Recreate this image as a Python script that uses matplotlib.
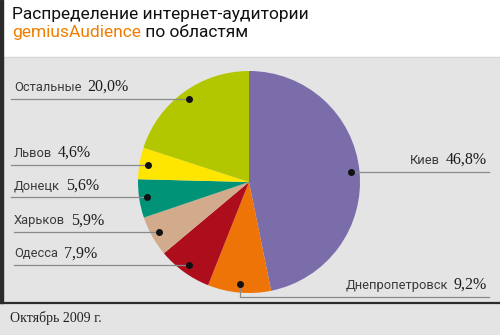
import numpy as np
import matplotlib.pyplot as plt
from matplotlib.patches import Rectangle

# -------------------------------------------------------------------------#
# DATA
# -------------------------------------------------------------------------#
regions = ["Киев", "Днепропетровск", "Одесса", "Харьков", "Донецк", "Львов", "Остальные"]
shares = [46.8, 9.2, 7.9, 5.9, 5.6, 4.6, 20.0]
colors = ["#7a6daa", "#ee7407", "#ae0d1c", "#d1ab8c", "#009378", "#ffe600", "#b2c700"]

title_line1 = "Распределение интернет-аудитории"
title_brand = "gemiusAudience"
title_rest = " по областям"
footnote = "Октябрь 2009 г."

# -------------------------------------------------------------------------#
# LAYOUT (pixels, y measured from the top)
# -------------------------------------------------------------------------#
W, H = 500, 335
CX, CY, R = 249, 182, 111
DOT_R = 0.925

SANS = ["Roboto", "DejaVu Sans"]
SERIF = ["Liberation Serif", "DejaVu Serif"]
BG = "#e4e4e4"
LINE = "#8a8a8a"


def Y(y):
    return H - y


fig = plt.figure(figsize=(W / 100, H / 100), dpi=100)
fig.patch.set_facecolor("white")
ax = fig.add_axes([0, 0, 1, 1])

# panel and footer backgrounds, dark frame on the left and bottom
ax.add_patch(Rectangle((3, Y(303)), W - 3, 303 - 57, color=BG, zorder=0))
ax.add_patch(Rectangle((0, 0), W, H - 303, color=BG, zorder=0))
ax.plot([3, W], [Y(57), Y(57)], color="#d6d6d6", lw=0.8, zorder=1)
ax.add_patch(Rectangle((0, Y(303)), 3, 303, color="#2b2b2b", zorder=2))
ax.plot([0, W], [Y(303), Y(303)], color="#2b2b2b", lw=1.6, zorder=2)

# pie, clockwise from the top
ax.pie(shares, colors=colors, startangle=90, counterclock=False,
       center=(CX, Y(CY)), radius=R, wedgeprops=dict(linewidth=0),
       frame=True)
ax.set_xlim(0, W)
ax.set_ylim(0, H)
ax.set_aspect("equal")
ax.axis("off")

# anchor points on the middle of each wedge
cum = np.cumsum(shares) - np.array(shares) / 2
theta = np.deg2rad(90 - 360 * cum / sum(shares))
dots_x = CX + DOT_R * R * np.cos(theta)
dots_y = Y(CY) + DOT_R * R * np.sin(theta)

fig.canvas.draw()
renderer = fig.canvas.get_renderer()


def label_left(name, val, x0, y_base):
    t = ax.text(x0, y_base, name, fontsize=9.3, family=SANS, color="#3a3a3a",
                ha="left", va="baseline")
    bb = t.get_window_extent(renderer)
    ax.text(bb.x1 + 6, y_base, val, fontsize=11.5, family=SERIF, color="#1e1e1e",
            ha="left", va="baseline")


def label_right(name, val, x1, y_base):
    t = ax.text(x1, y_base, val, fontsize=11.5, family=SERIF, color="#1e1e1e",
                ha="right", va="baseline")
    bb = t.get_window_extent(renderer)
    ax.text(bb.x0 - 6, y_base, name, fontsize=9.3, family=SANS, color="#3a3a3a",
            ha="right", va="baseline")


def pct(v):
    return f"{v:.1f}%".replace(".", ",")


line_start = {"Остальные": 11, "Львов": 11, "Донецк": 11, "Харьков": 14, "Одесса": 14}

for name, v, dx, dy in zip(regions, shares, dots_x, dots_y):
    if name == "Киев":
        ax.plot([dx, 489], [dy, dy], color=LINE, lw=0.9, zorder=3)
        label_right(name, pct(v), 487, dy + 8)
    elif name == "Днепропетровск":
        yl = Y(297)
        ax.plot([dx, dx, 489], [dy, yl, yl], color=LINE, lw=0.9, zorder=3)
        label_right(name, pct(v), 487, yl + 8.5)
    else:
        ax.plot([line_start[name], dx], [dy, dy], color=LINE, lw=0.9, zorder=3)
        label_left(name, pct(v), 14, dy + 8)
    ax.plot(dx, dy, "o", color="#111111", ms=4, zorder=4)

# title
ax.text(12, Y(19.5), title_line1, fontsize=12.5, family=SANS, color="#111111",
        ha="left", va="baseline")
tb = ax.text(12, Y(37), title_brand, fontsize=12.5, family=SANS, color="#f07d00",
             ha="left", va="baseline")
bb = tb.get_window_extent(renderer)
ax.text(bb.x1, Y(37), title_rest, fontsize=12.5, family=SANS, color="#111111",
        ha="left", va="baseline")

# footnote
ax.text(10, Y(322), footnote, fontsize=10, family=SERIF, color="#222222",
        ha="left", va="baseline")

fig.savefig("out.png", dpi=100)
